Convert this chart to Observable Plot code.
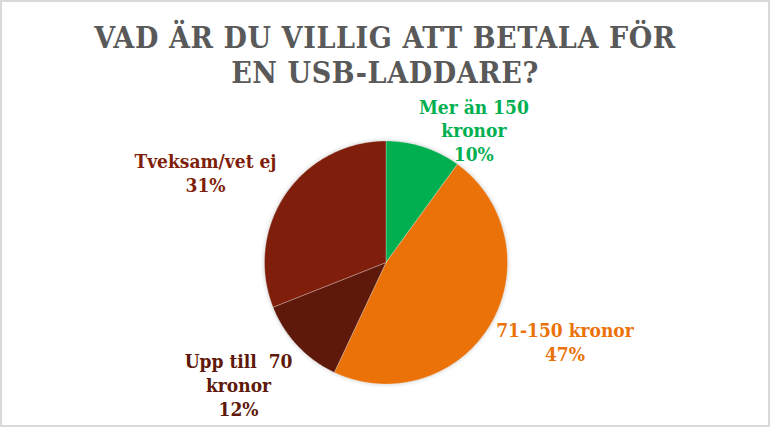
<!DOCTYPE html>
<html>
<head>
<meta charset="utf-8">
<script src="https://cdn.jsdelivr.net/npm/d3@7"></script>
<script src="https://cdn.jsdelivr.net/npm/@observablehq/plot@0.6"></script>
<style>
  html, body { margin: 0; padding: 0; background: #fff; }
  #frame {
    width: 770px; height: 427px; box-sizing: border-box;
    border: 2px solid #d9d9d9; background: #fff; overflow: hidden;
  }
  #title {
    font-family: "DejaVu Serif Condensed", "DejaVu Serif", serif;
    font-weight: bold; font-size: 30px; line-height: 35px; letter-spacing: 0.6px;
    color: #595959; text-align: center; padding-top: 18px; height: 70px;
    width: 766px;
  }
  #chart svg { display: block; }
</style>
</head>
<body>
<div id="frame">
  <div id="title">VAD ÄR DU VILLIG ATT BETALA FÖR<br>EN USB-LADDARE?</div>
  <div id="chart"></div>
</div>
<script>
// Data (clockwise from 12 o'clock)
const categories = ["Mer än 150 kronor", "71-150 kronor", "Upp till 70 kronor", "Tveksam/vet ej"];
const labelTexts = ["Mer än 150\nkronor", "71-150 kronor", "Upp till  70\nkronor", "Tveksam/vet ej"];
const values = [10, 47, 12, 31];
const colors = ["#00B050", "#EA7209", "#5E190A", "#7F1F0B"];

// Layout (SVG starts at page y = 90)
const W = 766, H = 335;
const cx = 383.5, cy = 172, R = 121.5;
const labelLayout = [
  {dAngle: 15.5, r: 1.31},
  {dAngle: -6.8, r: 1.61},
  {dAngle: 3.6, r: 1.575},
  {dAngle: -7.7, r: 1.66}
];
const serif = "'DejaVu Serif Condensed', 'DejaVu Serif', serif";

const total = d3.sum(values);
let acc = 0;
const slices = values.map((v, i) => {
  const a0 = acc / total * 360;
  acc += v;
  const a1 = acc / total * 360;
  return {category: categories[i], a0, a1, value: v, i};
});

const rad = a => a * Math.PI / 180;
const pts = [];
for (const s of slices) {
  pts.push({category: s.category, x: 0, y: 0});
  const n = Math.max(2, Math.ceil((s.a1 - s.a0) / 0.5));
  for (let k = 0; k <= n; k++) {
    const a = rad(s.a0 + (s.a1 - s.a0) * k / n);
    pts.push({category: s.category, x: Math.sin(a), y: Math.cos(a)});
  }
  pts.push({category: s.category, x: 0, y: 0});
}

const labels = slices.map((s, i) => {
  const a = rad((s.a0 + s.a1) / 2 + labelLayout[i].dAngle);
  const r = labelLayout[i].r;
  return {
    category: s.category,
    x: r * Math.sin(a), y: r * Math.cos(a),
    text: labelTexts[i] + "\n" + Math.round(s.value / total * 100) + "%"
  };
});

const plot = Plot.plot({
  width: W, height: H,
  margin: 0,
  x: {domain: [-1, 1], range: [cx - R, cx + R], axis: null},
  y: {domain: [-1, 1], range: [cy + R, cy - R], axis: null},
  color: {domain: categories, range: colors},
  style: {background: "transparent", overflow: "visible", fontFamily: serif},
  marks: [
    Plot.line(pts, {x: "x", y: "y", z: "category", fill: "category",
      stroke: "#ffffff", strokeOpacity: 0.35, strokeWidth: 0.8, curve: "linear"}),
    Plot.text(labels, {x: "x", y: "y", text: "text", fill: "category",
      fontSize: 19, fontWeight: "bold", lineHeight: 1.24, textAnchor: "middle",
      fontFamily: serif})
  ]
});
const g = plot.querySelector("g[aria-label='line']");
if (g) g.style.filter = "drop-shadow(0px 0px 2px rgba(0,0,0,0.22))";
document.getElementById("chart").appendChild(plot);
</script>
</body>
</html>
